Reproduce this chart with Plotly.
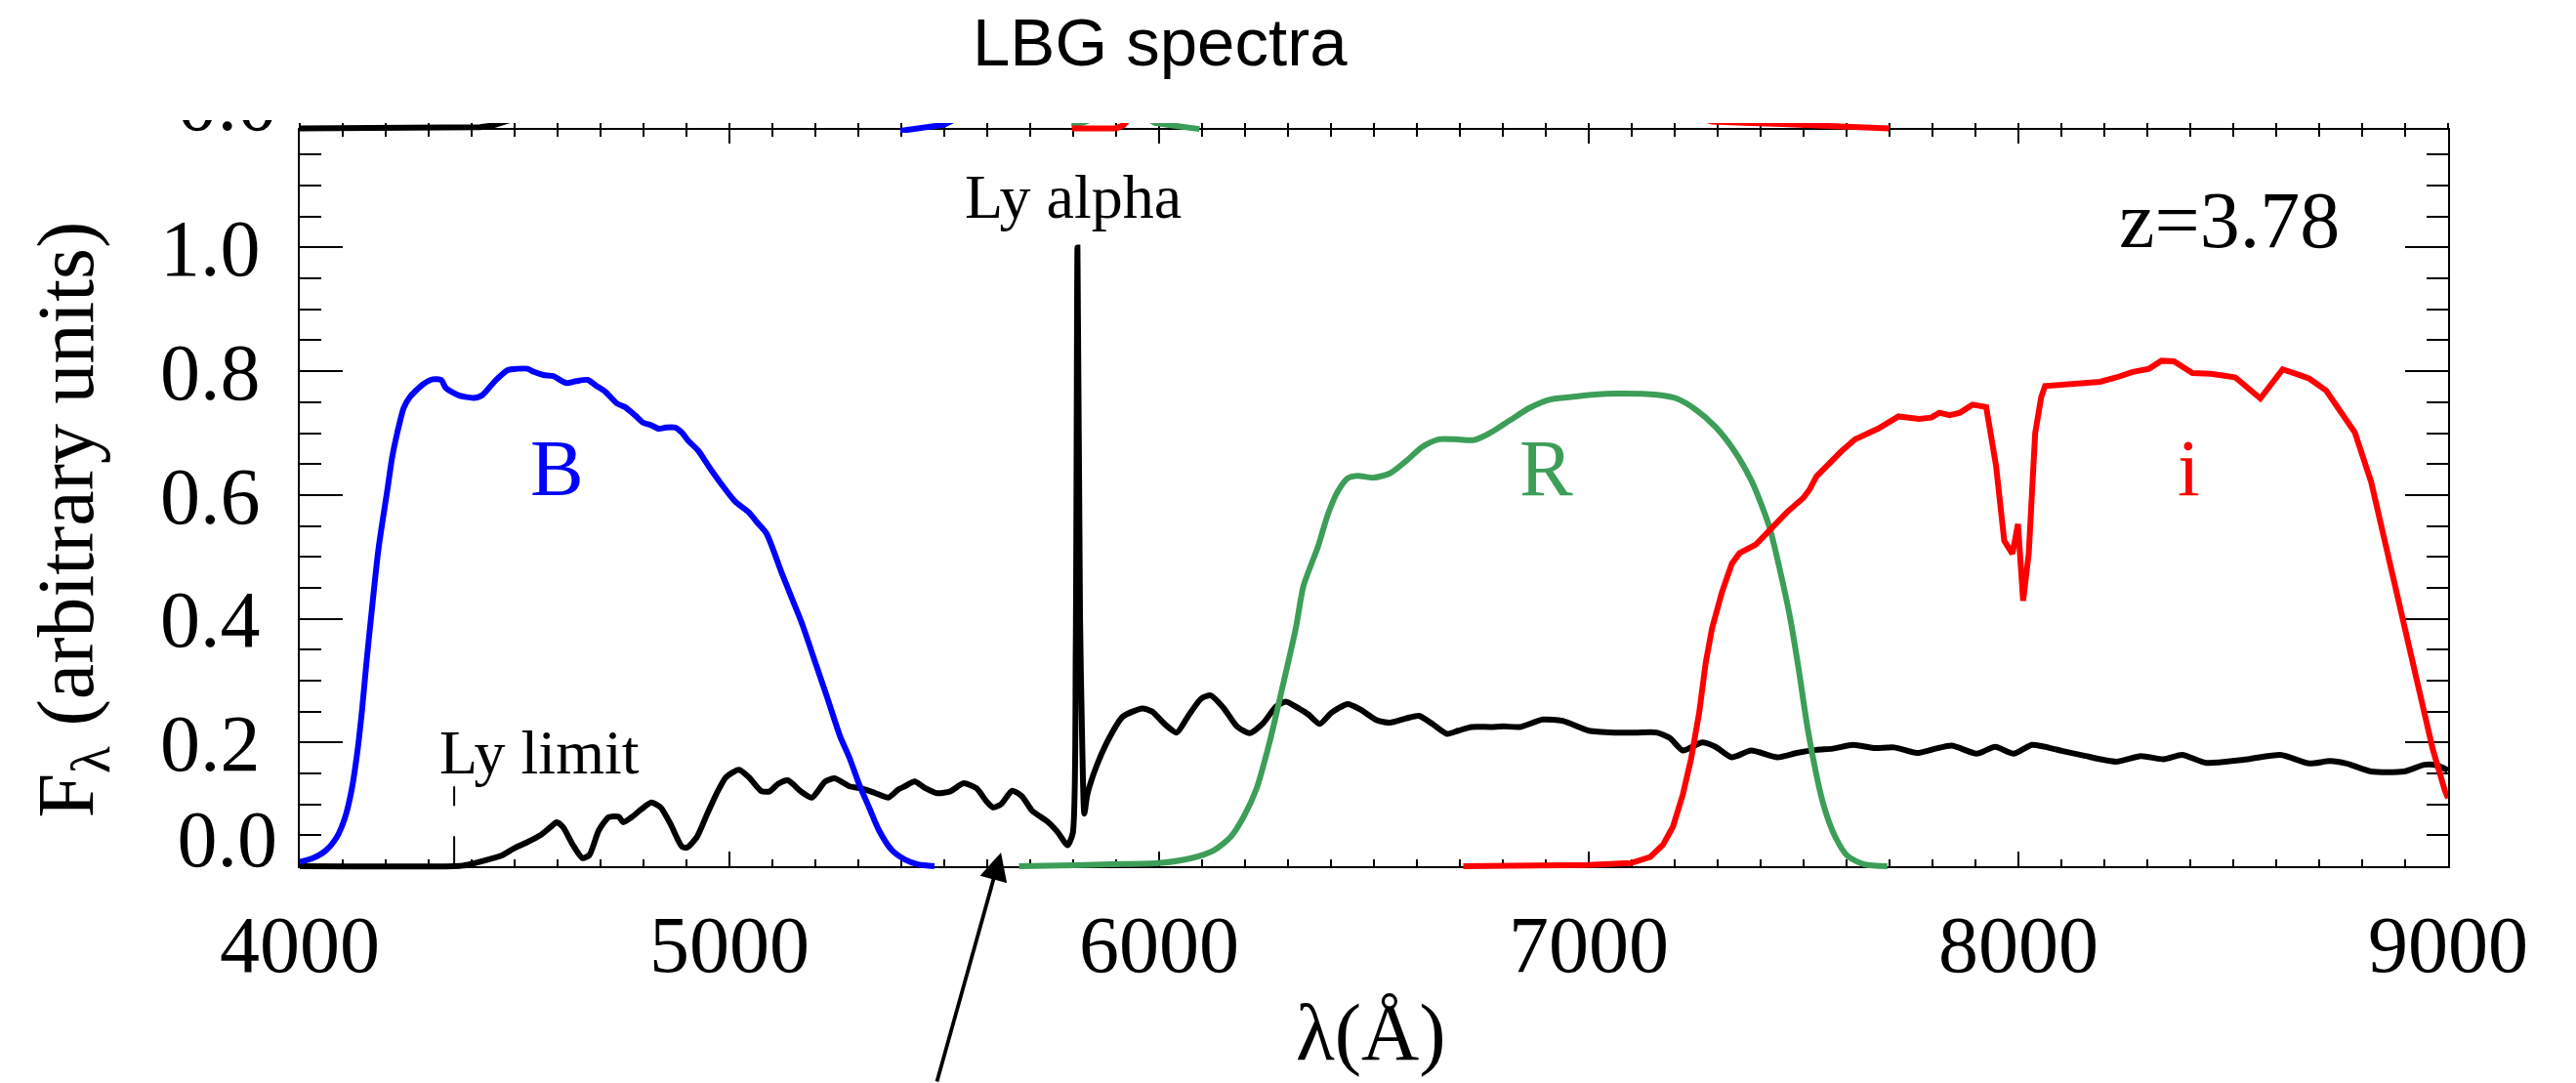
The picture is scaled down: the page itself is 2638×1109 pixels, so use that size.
import plotly.graph_objects as go

# ---------------- data ----------------
z = 3.78

# LBG model spectrum (black)
wave_spec = [4000, 4359, 4380, 4401, 4439, 4469, 4499, 4530, 4560, 4583,
             4598, 4613, 4636, 4658, 4674, 4696, 4719, 4742, 4753, 4772,
             4795, 4818, 4840, 4863, 4889, 4901, 4924, 4946, 4969, 4992,
             5022, 5045, 5075, 5094, 5113, 5136, 5166, 5192, 5223, 5245,
             5280, 5306, 5340, 5370, 5393, 5408, 5431, 5454, 5484, 5514,
             5545, 5575, 5598, 5613, 5632, 5658, 5681, 5704, 5742, 5764,
             5787, 5799, 5806, 5810, 5816, 5821, 5826, 5833, 5855, 5886,
             5916, 5961, 5984, 6014, 6041, 6067, 6098, 6120, 6151, 6181,
             6211, 6242, 6272, 6295, 6325, 6348, 6374, 6401, 6439, 6469,
             6507, 6537, 6575, 6605, 6636, 6670, 6696, 6727, 6772, 6802,
             6840, 6893, 6939, 7000, 7060, 7113, 7158, 7189, 7219, 7264,
             7295, 7333, 7378, 7439, 7484, 7530, 7568, 7616, 7663, 7711,
             7764, 7807, 7845, 7903, 7946, 7989, 8032, 8103, 8151, 8228,
             8285, 8338, 8381, 8438, 8534, 8610, 8677, 8725, 8764, 8821,
             8897, 8945, 8974, 9000]
flux_spec = [0.0, 0.0, 0.001, 0.004, 0.011, 0.017, 0.029, 0.039, 0.05, 0.063,
             0.071, 0.063, 0.034, 0.013, 0.018, 0.058, 0.079, 0.08, 0.071, 0.079,
             0.092, 0.103, 0.095, 0.068, 0.032, 0.03, 0.047, 0.081, 0.116, 0.144,
             0.156, 0.144, 0.121, 0.121, 0.133, 0.139, 0.121, 0.111, 0.137, 0.142,
             0.129, 0.126, 0.118, 0.111, 0.124, 0.129, 0.137, 0.127, 0.118, 0.121,
             0.134, 0.126, 0.105, 0.095, 0.1, 0.122, 0.113, 0.09, 0.071, 0.055,
             0.034, 0.053, 0.35, 1.0, 0.4, 0.2, 0.085, 0.116, 0.163, 0.21,
             0.242, 0.255, 0.25, 0.229, 0.216, 0.242, 0.271, 0.276, 0.255, 0.226,
             0.215, 0.231, 0.258, 0.266, 0.255, 0.245, 0.23, 0.248, 0.262, 0.253,
             0.236, 0.232, 0.239, 0.243, 0.23, 0.214, 0.219, 0.225, 0.225, 0.226,
             0.225, 0.237, 0.235, 0.219, 0.216, 0.216, 0.216, 0.207, 0.187, 0.2,
             0.193, 0.176, 0.187, 0.176, 0.183, 0.188, 0.19, 0.196, 0.191, 0.192,
             0.183, 0.19, 0.195, 0.182, 0.193, 0.182, 0.196, 0.186, 0.179, 0.169,
             0.178, 0.173, 0.18, 0.167, 0.173, 0.18, 0.166, 0.17, 0.166, 0.153,
             0.153, 0.164, 0.163, 0.155]

# B filter (blue)
wave_B = [4000, 4030, 4060, 4086, 4105, 4120, 4134, 4145, 4155, 4166,
          4183, 4204, 4215, 4227, 4242, 4257, 4287, 4310, 4329, 4340,
          4370, 4405, 4424, 4454, 4484, 4507, 4530, 4545, 4567, 4590,
          4620, 4643, 4670, 4689, 4711, 4738, 4757, 4780, 4799, 4817,
          4836, 4852, 4874, 4889, 4905, 4927, 4954, 4984, 5014, 5045,
          5064, 5086, 5120, 5143, 5170, 5196, 5227, 5257, 5280, 5302,
          5325, 5348, 5378, 5408, 5439, 5477]
flux_B = [0.007, 0.013, 0.025, 0.047, 0.078, 0.121, 0.185, 0.253, 0.328, 0.403,
          0.512, 0.609, 0.661, 0.701, 0.741, 0.759, 0.779, 0.787, 0.786, 0.773,
          0.761, 0.757, 0.761, 0.784, 0.802, 0.804, 0.804, 0.799, 0.794, 0.792,
          0.781, 0.784, 0.786, 0.777, 0.767, 0.748, 0.742, 0.729, 0.717, 0.713,
          0.707, 0.709, 0.709, 0.701, 0.687, 0.672, 0.644, 0.615, 0.589, 0.572,
          0.556, 0.538, 0.477, 0.437, 0.39, 0.337, 0.274, 0.211, 0.174, 0.132,
          0.095, 0.058, 0.026, 0.011, 0.003, 0.0]

# R filter (green)
wave_R = [5674, 5772, 5886, 5999, 6075, 6128, 6166, 6196, 6227, 6257,
          6287, 6318, 6336, 6370, 6393, 6416, 6439, 6461, 6499, 6537,
          6575, 6613, 6651, 6689, 6734, 6772, 6817, 6863, 6908, 6954,
          7007, 7067, 7158, 7204, 7249, 7295, 7340, 7378, 7393, 7421,
          7450, 7469, 7488, 7511, 7546, 7574, 7603, 7641, 7695]
flux_R = [0.0, 0.001, 0.003, 0.005, 0.013, 0.026, 0.047, 0.079, 0.126, 0.2,
          0.289, 0.384, 0.453, 0.517, 0.569, 0.606, 0.627, 0.631, 0.628, 0.635,
          0.655, 0.678, 0.69, 0.69, 0.689, 0.701, 0.721, 0.741, 0.754, 0.758,
          0.762, 0.764, 0.762, 0.756, 0.738, 0.71, 0.67, 0.624, 0.6, 0.547,
          0.463, 0.4, 0.321, 0.216, 0.1, 0.047, 0.016, 0.003, 0.0]

# i filter (red)
wave_i = [6708, 6878, 6999, 7098, 7143, 7173, 7196, 7219, 7238, 7257,
          7272, 7287, 7310, 7333, 7351, 7389, 7423, 7461, 7499, 7514,
          7530, 7553, 7587, 7620, 7673, 7721, 7769, 7797, 7816, 7840,
          7864, 7893, 7925, 7948, 7967, 7986, 7999, 8011, 8024, 8039,
          8053, 8062, 8123, 8190, 8228, 8266, 8304, 8333, 8362, 8405,
          8448, 8481, 8505, 8563, 8615, 8658, 8677, 8716, 8763, 8783,
          8821, 8859, 8897, 8936, 8964, 8993, 9000]
flux_i = [0.0, 0.0, 0.002, 0.005, 0.015, 0.035, 0.064, 0.116, 0.173, 0.248,
          0.328, 0.385, 0.443, 0.489, 0.506, 0.52, 0.546, 0.572, 0.595, 0.609,
          0.63, 0.647, 0.67, 0.69, 0.707, 0.727, 0.723, 0.725, 0.733, 0.729,
          0.733, 0.746, 0.742, 0.647, 0.526, 0.505, 0.553, 0.429, 0.505, 0.7,
          0.758, 0.776, 0.78, 0.783, 0.79, 0.799, 0.804, 0.817, 0.816, 0.797,
          0.796, 0.792, 0.79, 0.756, 0.803, 0.793, 0.788, 0.769, 0.724, 0.701,
          0.621, 0.506, 0.385, 0.265, 0.19, 0.121, 0.11]

# remnants of the panel above (visible just over the top frame)
strip_wave_black = [4000, 4380, 4420, 4450, 4480, 4520]
strip_flux_black = [0.0, 0.0, 0.002, 0.005, 0.010, 0.02]
strip_wave_blue = [5398, 5450, 5500, 5540]
strip_flux_blue = [-0.004, 0.0, 0.006, 0.02]
strip_wave_green = [5797, 5845, 5865, None, 5965, 5990, 6040, 6094]
strip_flux_green = [0.003, 0.004, 0.02, None, 0.02, 0.009, 0.004, -0.001]
strip_wave_red = [5797, 5900, 5918, 5935, None, 7240, 7287, 7450, 7600, 7699]
strip_flux_red = [0.0, 0.0, 0.006, 0.02, None, 0.02, 0.011, 0.007, 0.003, 0.0]

# Lyman limit marker and arrow
ly_limit = 912.0 * (1 + z)
ly_limit_flux = [0.129, 0.0]
arrow_tip_wave = 5632
arrow_tip_flux = 0.022

# ticks
xtick_vals = [4000, 5000, 6000, 7000, 8000, 9000]
xtick_text = ["4000", "5000", "6000", "7000", "8000", "9000"]
ytick_vals = [0.2, 0.4, 0.6, 0.8, 1.0]
ytick_text = ["0.2", "0.4", "0.6", "0.8", "1.0"]

# labels
label_pos = {
    "Ly alpha": (5799, 1.0816, 64, "black"),
    "Ly limit": (4559, 0.1841, 64, "black"),
    "z=%.2f" % z: (8492, 1.0439, 82, "black"),
    "B": (4598, 0.6427, 82, "#0000ff"),
    "R": (6900, 0.6427, 82, "#3c9e58"),
    "i": (8397, 0.6427, 82, "#ff0000"),
}

# ---------------- figure ----------------
BLUE = "#0000ff"
GREEN = "#3c9e58"
RED = "#ff0000"
SERIF = "Liberation Serif"
SANS = "Liberation Sans"
LW = 6

fig = go.Figure()


def line(x, y, color, width, yaxis="y4", dash=None, xaxis="x",
         shape="linear", smoothing=None):
    ln = dict(color=color, width=width, dash=dash, shape=shape)
    if smoothing is not None:
        ln["smoothing"] = smoothing
    return go.Scatter(x=x, y=y, mode="lines", xaxis=xaxis, yaxis=yaxis,
                      line=ln, hoverinfo="skip", showlegend=False)


fig.add_trace(line(wave_spec, flux_spec, "black", LW, shape="spline",
                   smoothing=0.6))
fig.add_trace(line(wave_B, flux_B, BLUE, LW, shape="spline", smoothing=0.7))
fig.add_trace(line(wave_R, flux_R, GREEN, LW, shape="spline", smoothing=0.7))
fig.add_trace(line(wave_i, flux_i, RED, LW))
fig.add_trace(line([ly_limit, ly_limit], ly_limit_flux, "black", 2,
                   dash="20px,31px,40px,10px"))

fig.add_trace(line(strip_wave_black, strip_flux_black, "black", 6, yaxis="y2"))
fig.add_trace(line(strip_wave_blue, strip_flux_blue, BLUE, 6, yaxis="y2"))
fig.add_trace(line(strip_wave_green, strip_flux_green, GREEN, 6, yaxis="y2"))
fig.add_trace(line(strip_wave_red, strip_flux_red, RED, 6, yaxis="y2"))

# empty traces so every axis pair exists
for xa, ya in [("x", "y"), ("x2", "y"), ("x3", "y"), ("x", "y3")]:
    fig.add_trace(go.Scatter(x=[None], y=[None], xaxis=xa, yaxis=ya,
                             mode="lines", showlegend=False, hoverinfo="skip"))

# geometry (pixels)
W, H = 2638, 1109
ML, MR, MT, MB = 307, 131, 126, 217
PH = H - MT - MB            # plot area height
y0_px = 887.0               # y = 0
ytop_px = 132.7             # top frame
ppu = (y0_px - ytop_px) / 1.1906


def py(px):
    return (H - MB - px) / PH


def pxx(px):
    return (px - ML) / (W - ML - MR)


main_dom = [py(y0_px), py(ytop_px)]
tickfont = dict(family=SERIF, size=82, color="black")

fig.update_layout(
    width=W, height=H,
    margin=dict(l=ML, r=MR, t=MT, b=MB, pad=0),
    paper_bgcolor="white", plot_bgcolor="rgba(0,0,0,0)",
    showlegend=False, hovermode=False,
    xaxis=dict(range=[4000, 9000], anchor="y", tickmode="array",
               tickvals=xtick_vals, ticktext=xtick_text,
               ticks="inside", ticklen=15, tickwidth=2, tickcolor="black",
               minor=dict(tickmode="linear", tick0=4000, dtick=100,
                          ticks="inside", ticklen=7, tickwidth=1.5,
                          tickcolor="black"),
               showline=True, linecolor="black", linewidth=2,
               showgrid=False, zeroline=False, tickfont=tickfont,
               ticklabelstandoff=8),
    xaxis2=dict(range=[4000, 9000], overlaying="x", side="top", anchor="y",
                tickmode="linear", tick0=4000, dtick=1000,
                ticks="inside", ticklen=14, tickwidth=2, tickcolor="black",
                minor=dict(tickmode="linear", tick0=4000, dtick=100,
                           ticks="inside", ticklen=7, tickwidth=1.5,
                           tickcolor="black"),
                showticklabels=False, showline=True, linecolor="black",
                linewidth=2, showgrid=False, zeroline=False),
    xaxis3=dict(range=[4000, 9000], overlaying="x", side="top", anchor="y",
                tickmode="linear", tick0=4000, dtick=100,
                ticks="outside", ticklen=6, tickwidth=1.5, tickcolor="black",
                showticklabels=False, showline=False, showgrid=False,
                zeroline=False),
    yaxis=dict(domain=main_dom, range=[0, 1.1906], anchor="x",
               tickmode="array", tickvals=ytick_vals, ticktext=ytick_text,
               ticks="inside", ticklen=44, tickwidth=2, tickcolor="black",
               minor=dict(tickmode="linear", tick0=0, dtick=0.05,
                          ticks="inside", ticklen=22, tickwidth=2,
                          tickcolor="black"),
               showline=True, linecolor="black", linewidth=2, mirror="ticks",
               showgrid=False, zeroline=False, tickfont=tickfont,
               ticklabelstandoff=22),
    yaxis3=dict(overlaying="y", side="left", anchor="x", range=[0, 1.1906],
                tickmode="array", tickvals=[0.0], ticktext=["0.0"],
                ticks="", showline=False, showgrid=False, zeroline=False,
                tickfont=tickfont, ticklabelstandoff=22, ticklabelshift=-29),
    yaxis4=dict(domain=[0, py(ytop_px)],
                range=[-(H - MB - y0_px) / ppu, 1.1906],
                anchor="x", visible=False),
    yaxis2=dict(domain=[py(136), 1.0],
                range=[-(136 - 131.5) / ppu, (131.5 - MT) / ppu],
                anchor="x", tickmode="array", tickvals=[0.0],
                ticktext=["0.0"], ticks="", showline=False, showgrid=False,
                zeroline=False, tickfont=tickfont, ticklabelstandoff=22,
                ticklabelshift=-27),
)

# hide the part of the upper panel's label that lies above the visible strip
fig.add_shape(type="rect", xref="paper", yref="paper",
              x0=-0.2, x1=-0.002, y0=py(123), y1=1.3,
              fillcolor="white", line=dict(width=0), layer="above")

annotations = []
for txt, (xv, yv, size, color) in label_pos.items():
    annotations.append(dict(x=xv, y=yv, xref="x", yref="y", text=txt,
                            showarrow=False, xanchor="center",
                            yanchor="middle",
                            font=dict(family=SERIF, size=size, color=color)))

annotations.append(dict(x=pxx(1188), y=py(43.7), xref="paper", yref="paper",
                        text="LBG spectra", showarrow=False,
                        xanchor="center", yanchor="middle",
                        font=dict(family=SANS, size=69, color="black")))
annotations.append(dict(x=pxx(1404), y=py(1057), xref="paper", yref="paper",
                        text="λ(Å)", showarrow=False,
                        xanchor="center", yanchor="middle",
                        font=dict(family=SERIF, size=82, color="black")))
annotations.append(dict(x=pxx(72), y=py(532.5), xref="paper", yref="paper",
                        text="F<sub>λ</sub> (arbitrary units)",
                        showarrow=False, textangle=-90,
                        xanchor="center", yanchor="middle",
                        font=dict(family=SERIF, size=82, color="black")))
annotations.append(dict(x=arrow_tip_wave, y=arrow_tip_flux, xref="x", yref="y",
                        text="", showarrow=True, ax=-66, ay=257,
                        axref="pixel", ayref="pixel",
                        arrowhead=2, arrowsize=1.5, arrowwidth=3.8,
                        arrowcolor="black", standoff=0))
fig.update_layout(annotations=annotations)

fig.write_html("out.html")
